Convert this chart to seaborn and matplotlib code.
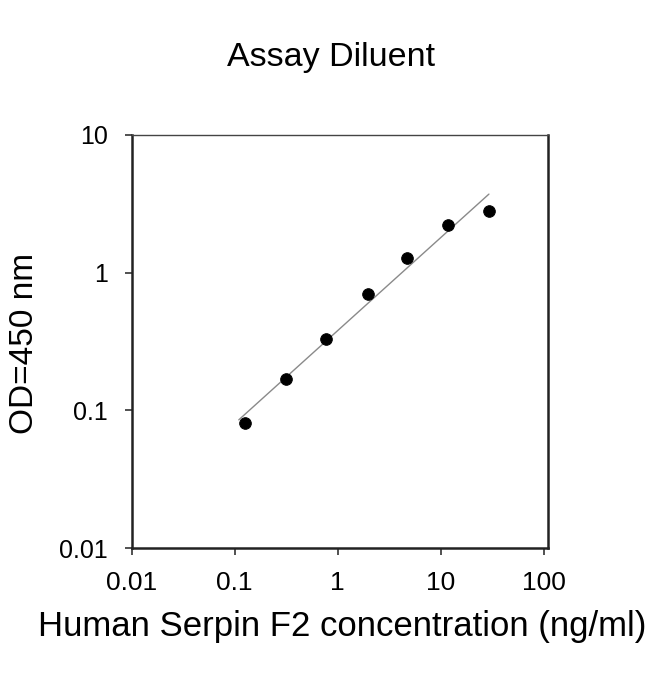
import numpy as np
import pandas as pd
import matplotlib
matplotlib.use("Agg")
import matplotlib.pyplot as plt
import seaborn as sns

# standard curve values
conc = [0.126, 0.318, 0.766, 1.95, 4.74, 11.8, 29.4]
od = [0.081, 0.169, 0.33, 0.70, 1.28, 2.22, 2.80]
tick_vals = [0.01, 0.1, 1, 10, 100]
tick_labels = ["0.01", "0.1", "1", "10", "100"]

df = pd.DataFrame({"conc": conc, "od": od})

# log-log linear fit for the standard curve line
slope, icpt = np.polyfit(np.log10(df["conc"]), np.log10(df["od"]), 1)
fit_x = np.logspace(np.log10(min(conc) / 1.15), np.log10(max(conc)), 50)
fit = pd.DataFrame({"conc": fit_x, "od": 10 ** (icpt + slope * np.log10(fit_x))})

sns.set_style("ticks")
plt.rcParams["font.family"] = ["Liberation Sans", "DejaVu Sans"]
plt.rcParams["text.color"] = "black"
plt.rcParams["xtick.color"] = "black"
plt.rcParams["ytick.color"] = "black"

fig = plt.figure(figsize=(6.5, 6.74), dpi=100)
ax = fig.add_axes([0.2026, 0.1865, 0.6404, 0.6135])

sns.lineplot(data=fit, x="conc", y="od", ax=ax, color="#8a8a8a", linewidth=1.0)
sns.scatterplot(data=df, x="conc", y="od", ax=ax, color="black", s=70, edgecolor="black", zorder=3)

ax.set_xscale("log")
ax.set_yscale("log")
ax.set_xlim(0.01, 110)
ax.set_ylim(0.01, 10)
ax.set_xticks(tick_vals)
ax.set_xticklabels(tick_labels, fontsize=19)
ax.set_yticks(tick_vals[:-1])
ax.set_yticklabels(tick_labels[:-1], fontsize=18)
ax.minorticks_off()
ax.tick_params(axis="both", length=5, width=1.2, color="#333333")
ax.tick_params(axis="x", pad=11)
ax.tick_params(axis="y", pad=12)

for side in ["left", "bottom", "right"]:
    ax.spines[side].set_visible(True)
    ax.spines[side].set_linewidth(1.8)
    ax.spines[side].set_color("#222222")
ax.spines["top"].set_visible(True)
ax.spines["top"].set_linewidth(1.0)
ax.spines["top"].set_color("#444444")

ax.set_xlabel("")
ax.set_ylabel("")
fig.text(0.51, 0.915, "Assay Diluent", ha="center", va="center", fontsize=24.5)
fig.text(0.526, 0.07, "Human Serpin F2 concentration (ng/ml)", ha="center", va="center", fontsize=25)
fig.text(0.038, 0.49, "OD=450 nm", ha="center", va="center", rotation=90, fontsize=24)

fig.savefig("out.png", dpi=100)
